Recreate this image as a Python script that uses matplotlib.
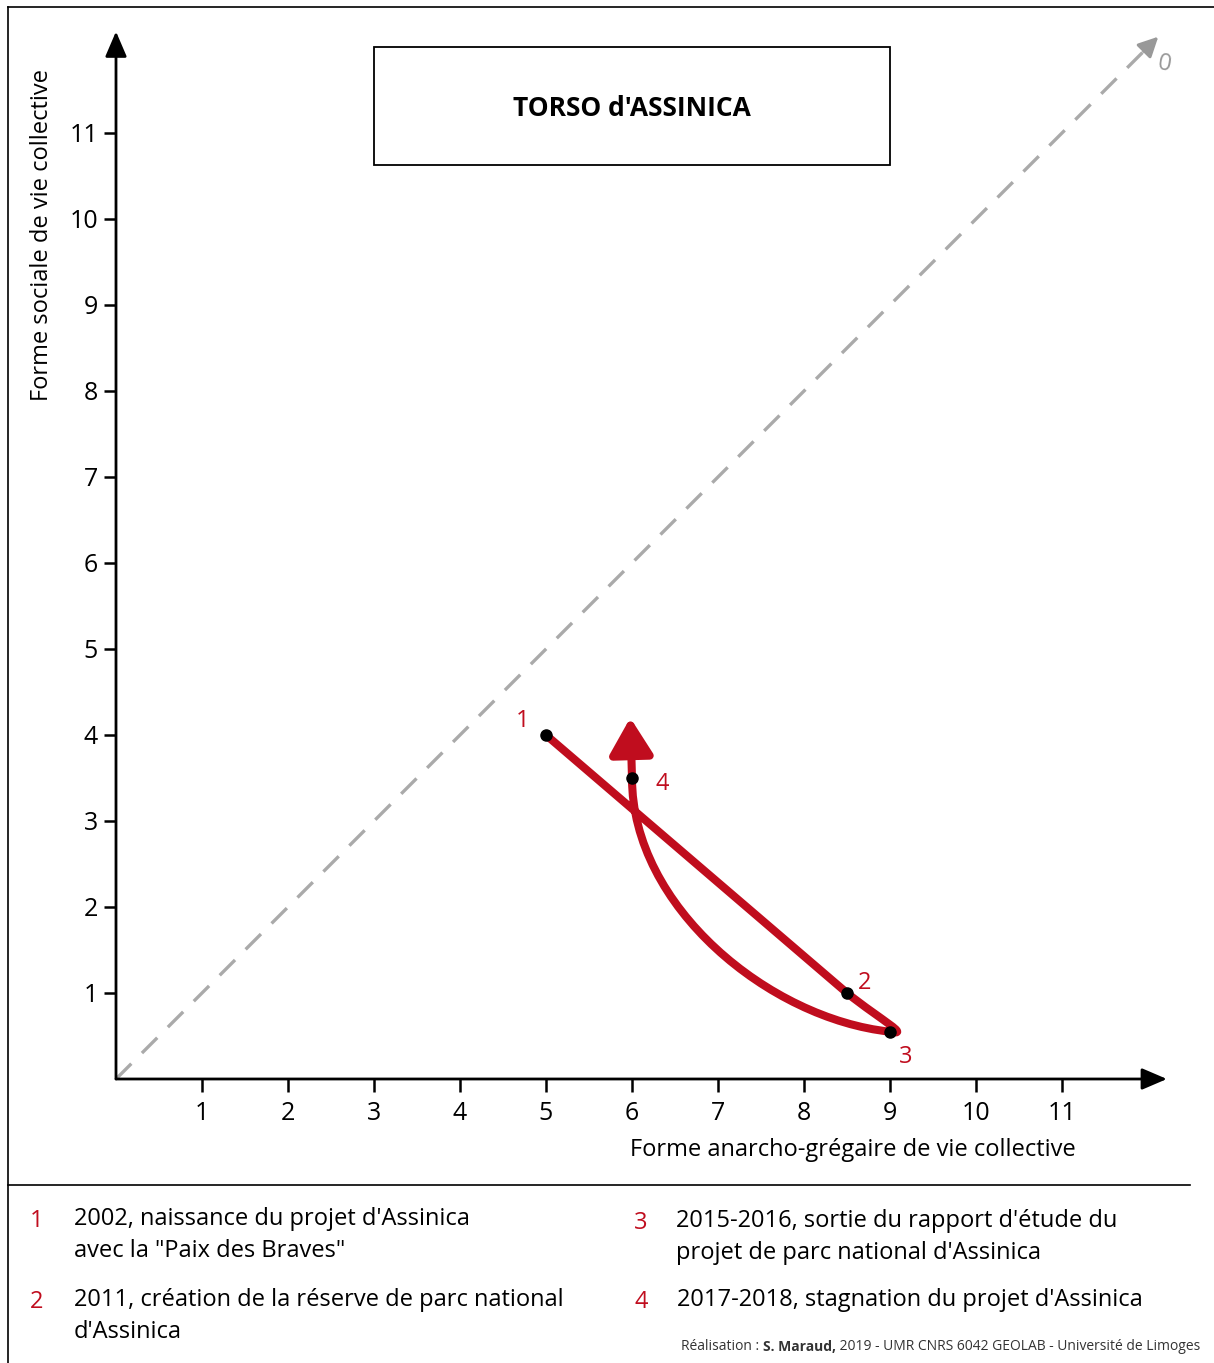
import matplotlib.pyplot as plt
from matplotlib.path import Path
from matplotlib.patches import PathPatch, Rectangle
from matplotlib.lines import Line2D

plt.rcParams['font.family'] = ['Open Sans', 'DejaVu Sans']

# données
ticks = list(range(1, 12))
event_ids = ['1', '2', '3', '4']
event_x = [5.0, 8.5, 9.0, 6.0]
event_y = [4.0, 1.0, 0.55, 3.5]
# trajectoire (points de contrôle de Bézier)
traj_x = [5.0, 8.5, 8.9, 9.25, 9.0, 7.6, 6.0, 6.0]
traj_y = [4.0, 1.0, 0.68, 0.5, 0.55, 0.7, 2.0, 3.5]
arrow_end = (5.98, 4.2)
legend_items = [
    ('1', "2002, naissance du projet d'Assinica\navec la \"Paix des Braves\""),
    ('2', "2011, création de la réserve de parc national\nd'Assinica"),
    ('3', "2015-2016, sortie du rapport d'étude du\nprojet de parc national d'Assinica"),
    ('4', "2017-2018, stagnation du projet d'Assinica"),
]
credit = ['Réalisation : ', 'S. Maraud,', ' 2019 - UMR CNRS 6042 GEOLAB - Université de Limoges']

red = '#c00d1e'
W, H = 1214, 1363
fig = plt.figure(figsize=(W / 100, H / 100), dpi=100)
ax = fig.add_axes([116 / W, (H - 1079) / H, 1064 / W, 1059 / H])
ax.set_xlim(0, 1064 / 86)
ax.set_ylim(0, 1059 / 86)
for s in ax.spines.values():
    s.set_visible(False)

# axes fléchés
arr = dict(arrowstyle='-|>,head_width=0.3,head_length=0.7',
           mutation_scale=22, lw=2, color='black', shrinkA=0, shrinkB=0)
ax.annotate('', xy=(12.22, 0), xytext=(0, 0), annotation_clip=False, arrowprops=arr)
ax.annotate('', xy=(0, 12.18), xytext=(0, 0), annotation_clip=False, arrowprops=arr)
ax.set_xticks(ticks)
ax.set_yticks(ticks)
ax.tick_params(axis='both', length=9, width=1.8, labelsize=18, direction='out')
ax.tick_params(axis='x', pad=7)
ax.tick_params(axis='y', pad=4)

# diagonale
ax.plot([0, 12.0], [0, 12.0], ls=(0, (6.5, 4.5)), color='#aaaaaa', lw=2.4)
ax.annotate('', xy=(12.12, 12.12), xytext=(11.95, 11.95), annotation_clip=False,
            arrowprops=dict(arrowstyle='-|>,head_width=0.3,head_length=0.6',
                            mutation_scale=20, lw=2.2, color='#999999', shrinkA=0, shrinkB=0))
ax.text(12.19, 11.8, '0', color='#999999', fontsize=17, ha='center', va='center',
        rotation=-10, clip_on=False)

# titre encadré
ax.add_patch(Rectangle((3.0, 10.63), 6.0, 1.37, fill=False, lw=1.3, ec='black'))
ax.text(6.0, 11.29, "TORSO d'ASSINICA", fontsize=19, fontweight='bold',
        ha='center', va='center')

# trajectoire
codes = [Path.MOVETO, Path.LINETO] + [Path.CURVE4] * 6
path = Path(list(zip(traj_x, traj_y)), codes)
ax.add_patch(PathPatch(path, fill=False, ec=red, lw=5.8, capstyle='round', joinstyle='round'))
ax.annotate('', xy=arrow_end, xytext=(traj_x[-1], traj_y[-1]),
            arrowprops=dict(arrowstyle='-|>,head_width=0.33,head_length=0.55',
                            mutation_scale=40, lw=5.8, color=red, shrinkA=0, shrinkB=0))
ax.plot(event_x, event_y, 'o', color='black', ms=8, zorder=5)
offsets = [(-17, 10), (13, 7), (11, -18), (22, -4)]
for lab, x, y, off in zip(event_ids, event_x, event_y, offsets):
    ax.annotate(lab, (x, y), xytext=off, textcoords='offset points', color=red,
                fontsize=17, ha='center', va='center')

# titres des axes
ax.text(8.57, -0.83, 'Forme anarcho-grégaire de vie collective', fontsize=17,
        ha='center', va='center', clip_on=False)
ax.text(-0.86, 9.81, 'Forme sociale de vie collective', fontsize=17, rotation=90,
        ha='center', va='center', clip_on=False)

# cadre
fig.add_artist(Line2D([8 / W, 8 / W], [0, 1 - 7 / H], color='black', lw=1.2))
fig.add_artist(Line2D([8 / W, 1], [1 - 7 / H, 1 - 7 / H], color='black', lw=1.2))
fig.add_artist(Line2D([8 / W, 1190 / W], [1 - 1185 / H, 1 - 1185 / H], color='black', lw=1.2))

# légende
pos = [(37, 74, 1221), (37, 74, 1302), (641, 676, 1223), (641, 677, 1302)]
for (num, txt), (xn, xt, yy) in zip(legend_items, pos):
    fig.text(xn / W, 1 - yy / H, num, color=red, fontsize=17, ha='center', va='center')
    fig.text(xt / W, 1 - (yy - 14) / H, txt, fontsize=17, ha='left', va='top',
             linespacing=1.45)

# crédit, aligné à droite en trois morceaux
renderer = fig.canvas.get_renderer()
x_right = 1200 / W
weights = ['normal', 'bold', 'normal']
for piece, wgt in zip(reversed(credit), reversed(weights)):
    t = fig.text(x_right, 1 - 1347 / H, piece, fontsize=10, ha='right', va='center',
                 color='#333333', fontweight=wgt)
    bb = t.get_window_extent(renderer)
    x_right = bb.x0 / (W)

fig.savefig('out.png', dpi=100)
